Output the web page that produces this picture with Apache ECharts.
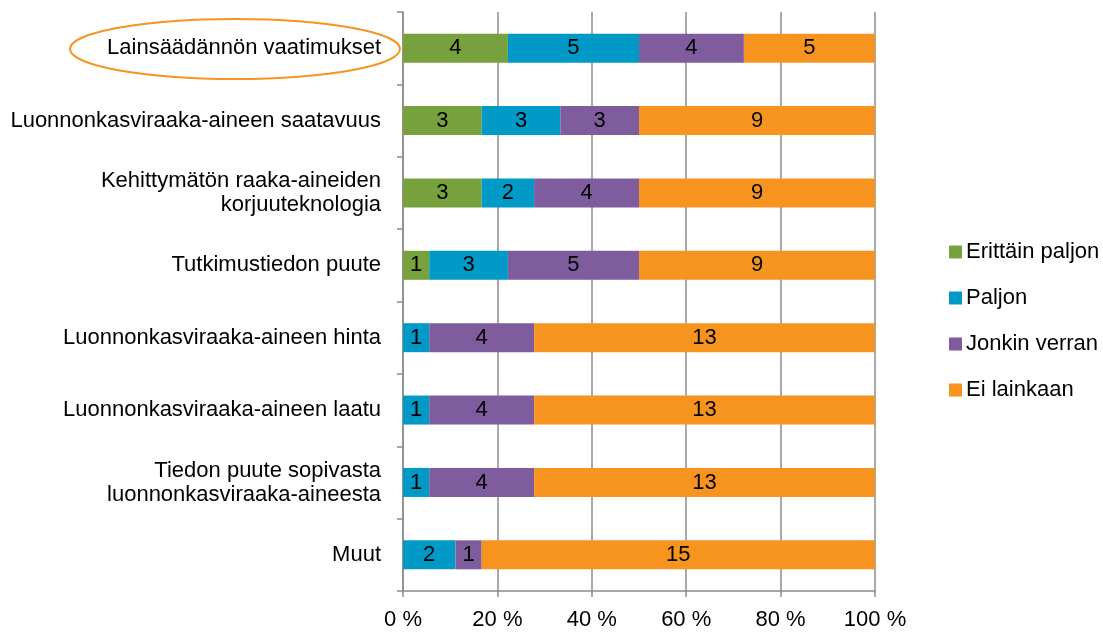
<!DOCTYPE html>
<html><head><meta charset="utf-8">
<script src="https://cdn.jsdelivr.net/npm/echarts@6/dist/echarts.min.js"></script>
<style>html,body{margin:0;padding:0;background:#fff}#c{width:1103px;height:633px}</style>
</head><body><div id="c"></div>
<script>
const categories = [
  "Lainsäädännön vaatimukset",
  "Luonnonkasviraaka-aineen saatavuus",
  "Kehittymätön raaka-aineiden\nkorjuuteknologia",
  "Tutkimustiedon puute",
  "Luonnonkasviraaka-aineen hinta",
  "Luonnonkasviraaka-aineen laatu",
  "Tiedon puute sopivasta\nluonnonkasviraaka-aineesta",
  "Muut"
];
const seriesNames = ["Erittäin paljon", "Paljon", "Jonkin verran", "Ei lainkaan"];
const erittainPaljon = [4, 3, 3, 1, 0, 0, 0, 0];
const paljon        = [5, 3, 2, 3, 1, 1, 1, 2];
const jonkinVerran  = [4, 3, 4, 5, 4, 4, 4, 1];
const eiLainkaan    = [5, 9, 9, 9, 13, 13, 13, 15];
const xTickLabels = ["0 %", "20 %", "40 %", "60 %", "80 %", "100 %"];
const colors = ["#77A13D", "#0199C6", "#7F5C9E", "#F7941F"];

const counts = [erittainPaljon, paljon, jonkinVerran, eiLainkaan];
const totals = categories.map((_, i) => counts.reduce((s, a) => s + a[i], 0));
const FONT = "'Liberation Sans', Arial, sans-serif";

const chart = echarts.init(document.getElementById('c'), null, {renderer: 'canvas'});
chart.setOption({
  animation: false,
  textStyle: {fontFamily: FONT},
  grid: {left: 403, right: 228, top: 12, bottom: 42, containLabel: false},
  legend: {
    orient: 'vertical', left: 944, top: 236, itemGap: 24,
    itemWidth: 13, itemHeight: 13, icon: 'rect',
    textStyle: {fontFamily: FONT, fontSize: 22, color: '#000', padding: [0,0,0,-1]},
    data: seriesNames
  },
  xAxis: {
    type: 'value', min: 0, max: 100, interval: 20,
    axisLine: {show: true, lineStyle: {color: '#8c8c8c', width: 1.5}},
    axisTick: {show: true, length: 6, lineStyle: {color: '#8c8c8c', width: 1.5}},
    splitLine: {show: true, lineStyle: {color: '#8c8c8c', width: 1.5}},
    axisLabel: {
      fontFamily: FONT, fontSize: 22, color: '#000', margin: 18,
      formatter: v => xTickLabels[Math.round(v / 20)]
    }
  },
  yAxis: {
    type: 'category', inverse: true, data: categories,
    axisLine: {show: true, lineStyle: {color: '#8c8c8c', width: 1.5}},
    axisTick: {show: true, length: 6, alignWithLabel: false, lineStyle: {color: '#8c8c8c', width: 1.5}},
    axisLabel: {fontFamily: FONT, fontSize: 22, color: '#000', margin: 22, lineHeight: 24, align: 'right'}
  },
  series: seriesNames.map((name, s) => ({
    name, type: 'bar', stack: 'total', barWidth: 29,
    itemStyle: {color: colors[s]},
    label: {
      show: true, position: 'inside', color: '#000', fontFamily: FONT, fontSize: 22,
      formatter: p => counts[s][p.dataIndex] ? String(counts[s][p.dataIndex]) : ''
    },
    data: counts[s].map((v, i) => v / totals[i] * 100)
  })),
  graphic: [{
    type: 'ellipse', shape: {cx: 235, cy: 49, rx: 165, ry: 30},
    style: {fill: 'none', stroke: '#F7941F', lineWidth: 2}, z: 10
  }]
});
</script></body></html>
